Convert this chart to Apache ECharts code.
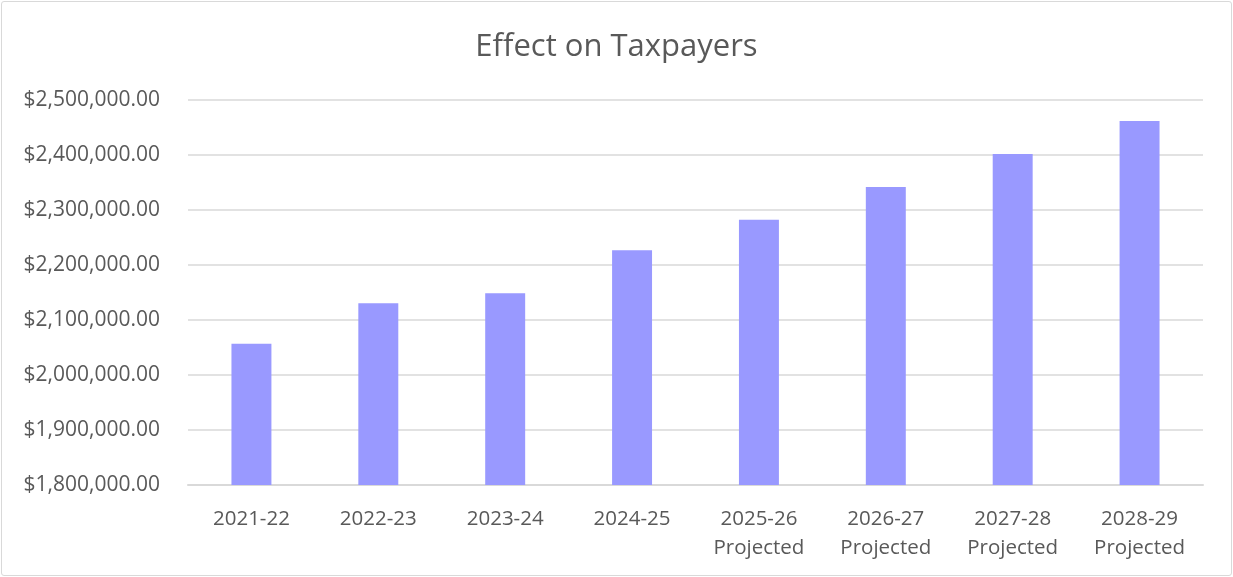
<!DOCTYPE html>
<html>
<head>
<meta charset="utf-8">
<script src="https://cdn.jsdelivr.net/npm/echarts@6/dist/echarts.min.js"></script>
<style>
  html, body { margin: 0; padding: 0; background: #ffffff; }
  #frame { position: absolute; left: 1px; top: 1px; width: 1229px; height: 573px; border: 1px solid #d9d9d9; border-radius: 3px; }
  #chart { position: absolute; left: 0; top: 0; width: 1233px; height: 577px; }
</style>
</head>
<body>
<div id="frame"></div>
<div id="chart"></div>
<script>
const title = 'Effect on Taxpayers';
const categories = ['2021-22', '2022-23', '2023-24', '2024-25', '2025-26\nProjected', '2026-27\nProjected', '2027-28\nProjected', '2028-29\nProjected'];
const values = [2057000, 2130300, 2148500, 2226700, 2282400, 2341800, 2401800, 2461800];
const yMin = 1800000;
const yMax = 2500000;
const yStep = 100000;

function fmt(v) {
  const s = Math.round(v).toString().replace(/\B(?=(\d{3})+(?!\d))/g, ',');
  return '$' + s + '.00';
}

const chart = echarts.init(document.getElementById('chart'), null, { renderer: 'canvas' });
chart.setOption({
  animation: false,
  backgroundColor: 'transparent',
  textStyle: { fontFamily: 'Open Sans' },
  title: {
    text: title,
    left: 'center',
    top: 27,
    textStyle: { fontFamily: 'Open Sans', fontSize: 31, fontWeight: 'normal', color: '#595959' }
  },
  grid: { left: 188, right: 30, top: 100, bottom: 92, containLabel: false },
  xAxis: {
    type: 'category',
    data: categories,
    axisLine: { show: true, lineStyle: { color: '#d9d9d9', width: 2 } },
    axisTick: { show: false },
    axisLabel: { color: '#595959', fontSize: 20.5, fontFamily: 'Open Sans', margin: 20, lineHeight: 29, interval: 0 }
  },
  yAxis: {
    type: 'value',
    min: yMin,
    max: yMax,
    interval: yStep,
    axisLine: { show: false },
    axisTick: { show: false },
    splitLine: { lineStyle: { color: '#d9d9d9', width: 1.5 } },
    axisLabel: { color: '#595959', fontSize: 21, fontFamily: 'Open Sans', margin: 28, formatter: fmt }
  },
  series: [{
    type: 'bar',
    data: values,
    barWidth: '31.5%',
    itemStyle: { color: '#9999ff' }
  }]
});
</script>
</body>
</html>
